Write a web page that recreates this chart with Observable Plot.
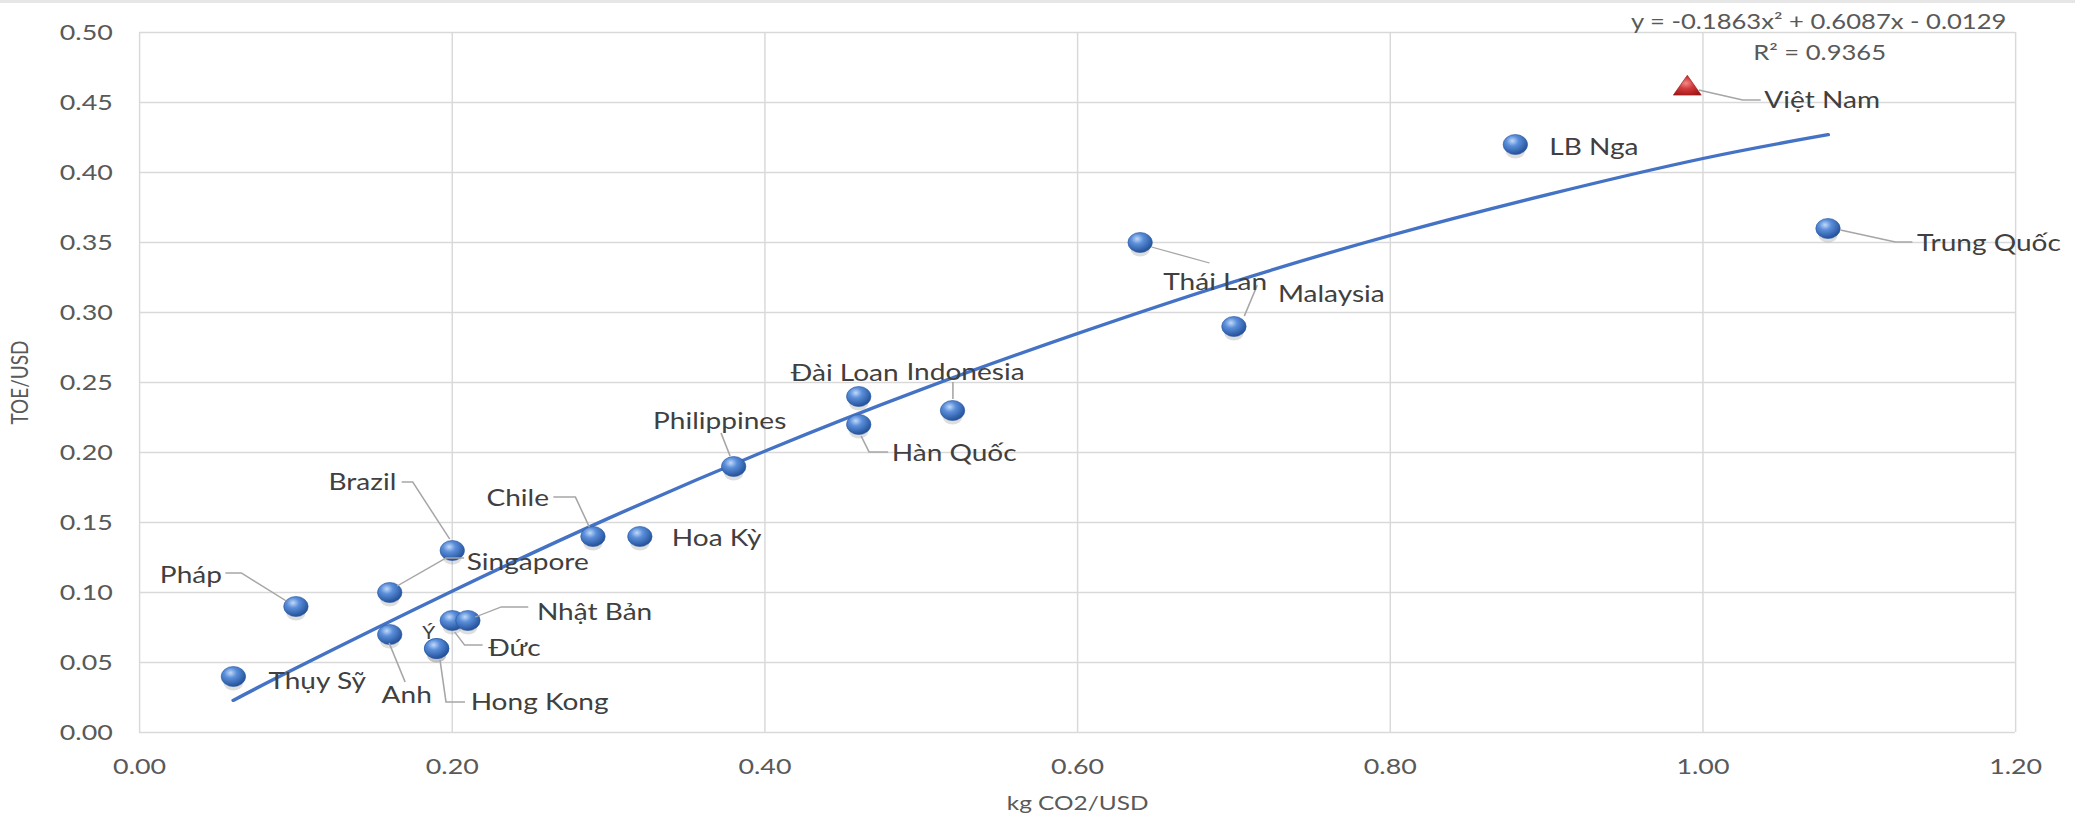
<!DOCTYPE html>
<html>
<head>
<meta charset="utf-8">
<script src="https://cdn.jsdelivr.net/npm/d3@7"></script>
<script src="https://cdn.jsdelivr.net/npm/@observablehq/plot@0.6"></script>
<style>
  html, body { margin: 0; padding: 0; background: #ffffff; }
  #chart { position: relative; width: 2075px; height: 824px; overflow: hidden; }
  #topband { position: absolute; left: 0; top: 0; width: 2075px; height: 3px; background: #e6e6e6; }
</style>
</head>
<body>
<div id="chart"><div id="topband"></div></div>
<script>
// ---------- data ----------
const countries = ["Thụy Sỹ","Pháp","Anh","Singapore","Brazil","Ý","Hong Kong","Đức","Nhật Bản","Chile",
                   "Hoa Kỳ","Philippines","Đài Loan","Hàn Quốc","Indonesia","Thái Lan","Malaysia","LB Nga","Việt Nam","Trung Quốc"];
const co2 = [0.06,0.10,0.16,0.16,0.20,0.19,0.19,0.20,0.21,0.29,0.32,0.38,0.46,0.46,0.52,0.64,0.70,0.88,0.99,1.08];
const toe = [0.04,0.09,0.07,0.10,0.13,0.06,0.06,0.08,0.08,0.14,0.14,0.19,0.24,0.22,0.23,0.35,0.29,0.42,0.46,0.36];
const highlight = "Việt Nam";

// trend line
const trendX = [0.06,0.10,0.20,0.30,0.40,0.50,0.60,0.70,0.80,0.90,1.00,1.08];
const trendY = [0.023,0.046,0.101,0.153,0.201,0.245,0.285,0.322,0.355,0.384,0.410,0.427];

const xTicks = [0,0.2,0.4,0.6,0.8,1.0,1.2];
const yTicks = [0,0.05,0.10,0.15,0.20,0.25,0.30,0.35,0.40,0.45,0.50];
const xTitle = "kg CO2/USD";
const yTitle = "TOE/USD";
const equationLines = ["y = -0.1863x² + 0.6087x - 0.0129", "R² = 0.9365"];

// ---------- layout (screen pixels relative to each point) ----------
const labelLayout = {
  "Thụy Sỹ":    {dx: 35,  dy: 5,   anchor: "start"},
  "Pháp":       {dx: -74, dy: -31, anchor: "end",    leader: [[-70,-33],[-54,-33],[-9,-5]]},
  "Anh":        {dx: 17,  dy: 61,  anchor: "middle", leader: [[0,9],[16,48]]},
  "Singapore":  {dx: 77,  dy: -30, anchor: "start",  leader: [[75,-34],[57,-34],[8,-6]]},
  "Brazil":     {dx: -56, dy: -68, anchor: "end",    leader: [[-50,-68],[-39,-68],[-2,-11]]},
  "Ý":          {dx: -8,  dy: -15, anchor: "middle", small: true},
  "Hong Kong":  {dx: 34,  dy: 54,  anchor: "start",  leader: [[29,54],[10,54],[4,12]]},
  "Đức":        {dx: 36,  dy: 28,  anchor: "start",  leader: [[31,25],[13,25],[3,12]]},
  "Nhật Bản":   {dx: 69,  dy: -8,  anchor: "start",  leader: [[61,-13],[34,-13],[8,-3]]},
  "Chile":      {dx: -44, dy: -38, anchor: "end",    leader: [[-39,-39],[-17,-39],[-3,-9]]},
  "Hoa Kỳ":     {dx: 32,  dy: 2,   anchor: "start"},
  "Philippines":{dx: -14, dy: -45, anchor: "middle", leader: [[-12,-33],[-3,-10]]},
  "Đài Loan":   {dx: -14, dy: -23, anchor: "middle"},
  "Hàn Quốc":   {dx: 33,  dy: 29,  anchor: "start",  leader: [[30,28],[11,28],[3,12]]},
  "Indonesia":  {dx: 13,  dy: -38, anchor: "middle", leader: [[1,-28],[1,-11]]},
  "Thái Lan":   {dx: 75,  dy: 40,  anchor: "middle", leader: [[12,5],[70,21]]},
  "Malaysia":   {dx: 44,  dy: -32, anchor: "start",  leader: [[24,-41],[11,-10]]},
  "LB Nga":     {dx: 34,  dy: 3,   anchor: "start"},
  "Việt Nam":   {dx: 77,  dy: 12,  anchor: "start",  leader: [[12,2],[56,12],[74,12]]},
  "Trung Quốc": {dx: 89,  dy: 15,  anchor: "start",  leader: [[13,2],[68,14],[85,14]]}
};

// horizontal stretch of the whole picture (the reference is a stretched Excel chart)
const S = 1.22;
const W = Math.round(2075 / S);
const H = 824;
const ns = "http://www.w3.org/2000/svg";

const rows = countries.map((name, i) => ({name, x: co2[i], y: toe[i]}));
const trend = trendX.map((x, i) => ({x, y: trendY[i]}));
const blueRows = rows.filter(d => d.name !== highlight);
const redRows = rows.filter(d => d.name === highlight);
const fmt = d3.format(".2f");

const leaderMark = (index, scales) => {
  const g = document.createElementNS(ns, "g");
  g.setAttribute("fill", "none");
  g.setAttribute("stroke", "#a6a6a6");
  g.setAttribute("stroke-width", "1.3");
  for (const r of rows) {
    const L = labelLayout[r.name];
    if (!L.leader) continue;
    const px = scales.x(r.x), py = scales.y(r.y);
    const p = document.createElementNS(ns, "path");
    p.setAttribute("d", "M" + L.leader.map(([a, b]) => `${px + a / S},${py + b}`).join("L"));
    g.appendChild(p);
  }
  return g;
};

const labelMarks = rows.map(r => {
  const L = labelLayout[r.name];
  return Plot.text([r], {
    x: "x", y: "y", text: "name",
    dx: L.dx / S, dy: L.dy,
    textAnchor: L.anchor, lineAnchor: "middle",
    fontSize: L.small ? 17 : 23, fill: "#404040"
  });
});

const svg = Plot.plot({
  width: W,
  height: H,
  marginLeft: 139 / S,
  marginRight: 60 / S,
  marginTop: 32,
  marginBottom: 92,
  style: {fontFamily: "Lato, 'Open Sans', sans-serif", fontSize: "22px", color: "#595959", background: "#ffffff", overflow: "visible"},
  x: {domain: [0, 1.2], ticks: xTicks, tickFormat: fmt, tickSize: 0, tickPadding: 26, label: null},
  y: {domain: [0, 0.5], ticks: yTicks, tickFormat: fmt, tickSize: 0, tickPadding: 22, label: null},
  marks: [
    Plot.ruleY(yTicks, {stroke: "#d9d9d9", strokeWidth: 1.4}),
    Plot.ruleX(xTicks, {stroke: "#d9d9d9", strokeWidth: 1.2}),
    Plot.line(trend, {x: "x", y: "y", stroke: "#4472c4", strokeWidth: 3.3, curve: "natural"}),
    Plot.dot(blueRows, {x: "x", y: "y", r: 8, dy: 6, fill: "#6b6b6b", fillOpacity: 0.22}),
    Plot.dot(blueRows, {x: "x", y: "y", r: 10, fill: "url(#sphereBlue)", stroke: "#2a5aa6", strokeWidth: 0.6}),
    Plot.dot(redRows, {x: "x", y: "y", r: 8.5, symbol: "triangle", fill: "url(#sphereRed)", stroke: "#a01c1c", strokeWidth: 0.6}),
    leaderMark,
    ...labelMarks,
    Plot.text([equationLines[0]], {frameAnchor: "top-right", text: d => d, dx: (1818 - 2015) / S, dy: -10, textAnchor: "middle", lineAnchor: "middle", fontSize: 21, fill: "#595959"}),
    Plot.text([equationLines[1]], {frameAnchor: "top-right", text: d => d, dx: (1819 - 2015) / S, dy: 21, textAnchor: "middle", lineAnchor: "middle", fontSize: 21, fill: "#595959"}),
    Plot.text([yTitle], {frameAnchor: "left", text: d => d, dx: (20 - 139) / S, rotate: -90, textAnchor: "middle", lineAnchor: "middle", fontSize: 19, fill: "#595959"}),
    Plot.text([xTitle], {frameAnchor: "bottom", text: d => d, dy: 71, textAnchor: "middle", lineAnchor: "middle", fontSize: 20, fill: "#595959"})
  ]
});

// gradients for the 3D-looking markers
const defs = d3.create("svg:defs");
const gb = defs.append("radialGradient").attr("id", "sphereBlue").attr("cx", "38%").attr("cy", "32%").attr("r", "72%");
gb.append("stop").attr("offset", "0%").attr("stop-color", "#c2d9f7");
gb.append("stop").attr("offset", "35%").attr("stop-color", "#5b8fdb");
gb.append("stop").attr("offset", "100%").attr("stop-color", "#1f4c94");
const gr = defs.append("radialGradient").attr("id", "sphereRed").attr("cx", "45%").attr("cy", "40%").attr("r", "70%");
gr.append("stop").attr("offset", "0%").attr("stop-color", "#f08a8a");
gr.append("stop").attr("offset", "40%").attr("stop-color", "#d33b3b");
gr.append("stop").attr("offset", "100%").attr("stop-color", "#9c1515");
svg.insertBefore(defs.node(), svg.firstChild);

// stretch horizontally to the 2075 x 824 frame
svg.setAttribute("width", 2075);
svg.setAttribute("height", H);
svg.setAttribute("viewBox", `0 0 ${W} ${H}`);
svg.setAttribute("preserveAspectRatio", "none");
svg.style.width = "2075px";
svg.style.height = H + "px";
svg.style.maxWidth = "none";
svg.style.display = "block";

document.getElementById("chart").insertBefore(svg, document.getElementById("topband"));
</script>
</body>
</html>
